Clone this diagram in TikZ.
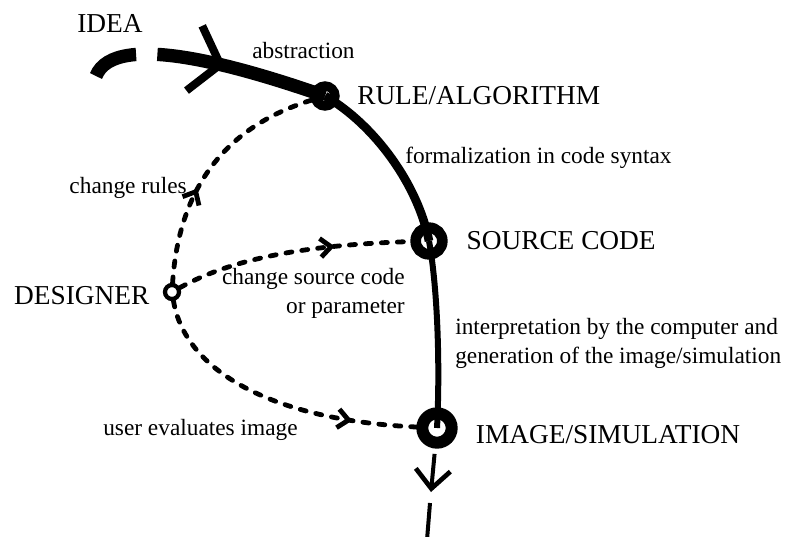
\documentclass[tikz,border=0pt]{standalone}
\usepackage{fontspec}
\setmainfont{Liberation Serif}
\usetikzlibrary{arrows.meta, positioning}
\usetikzlibrary{decorations.markings}

\begin{document}
\begin{tikzpicture}[x=0.75pt, y=-0.75pt,
    stage/.style={circle, draw, inner sep=0pt, minimum size=20pt, line width=8pt},
    bigtext/.style={inner sep=0pt, font=\fontsize{20.5}{24}\selectfont},
    smalltext/.style={inner sep=0pt, font=\fontsize{17.5}{21.5}\selectfont},
    mainflow/.style={line width=#1, line cap=butt},
    feedback/.style={line width=3.6pt, line cap=round, dash pattern=on 4.5pt off 7.5pt},
    midarrow/.style={decoration={markings, mark=at position #1 with {\arrow{Straight Barb[length=8pt,width=14pt,line width=3.6pt]}}}, postaction={decorate}}]
    \useasboundingbox (0,0) rectangle (793,536);

    % stages of the process
    \node[stage, minimum size=15pt, line width=7pt] (rule) at (325,96) {};
    \node[stage] (source) at (429,241) {};
    \node[stage, minimum size=22pt, line width=9pt] (image) at (437,428) {};
    \node[stage, minimum size=10.5pt, line width=3.2pt] (designer) at (172,292) {};
    \coordinate (ideatail) at (96,76);
    \coordinate (sinktip) at (431,492);
    \coordinate (sinka) at (430,503);
    \coordinate (sinkb) at (427,540);

    % main flow
    \draw[mainflow=10pt, dash pattern=on 36pt off 16pt on 600pt,
      decoration={markings, mark=at position 0.57 with {\arrow{Straight Barb[length=20pt,width=50pt,line width=6pt]}}},
      postaction={decorate}] (ideatail) .. controls (115,28) and (250,70) .. (rule.center);
    \draw[mainflow=6.5pt] (rule.center) .. controls (375,125) and (418,185) .. (source.center);
    \draw[mainflow=4.5pt] (source.center) .. controls (438,290) and (440,370) .. (image.center);
    \draw[mainflow=3pt, shorten <=4pt, -{Straight Barb[length=14pt,width=26pt,line width=3.5pt]}] (image) -- (sinktip);
    \draw[mainflow=3pt] (sinka) -- (sinkb);

    % designer loops
    \draw[feedback, midarrow=0.4] (designer) .. controls (178,200) and (215,130) .. (rule);
    \draw[feedback, midarrow=0.68] (designer) .. controls (230,260) and (300,245) .. (source);
    \draw[feedback, midarrow=0.78] (designer) .. controls (185,370) and (270,420) .. (image);

    % labels
    \node[bigtext, anchor=base west] (idea) at (77,32) {IDEA};
    \node[smalltext, anchor=base west] (abstr) at (252,58) {abstraction};
    \node[bigtext, right=13pt of rule] (rulelbl) {RULE/ALGORITHM};
    \node[smalltext, anchor=base west] (formal) at (405,163) {formalization in code syntax};
    \node[bigtext, right=14pt of source] (sourcelbl) {SOURCE CODE};
    \node[smalltext, anchor=base east] (rulechg) at (187,193) {change rules};
    \node[bigtext, left=10pt of designer, yshift=-3pt] (designerlbl) {DESIGNER};
    \node[smalltext, align=right, anchor=north east] (codechg) at (405,268) {change source code\\or parameter};
    \node[smalltext, align=left, anchor=north west] (interp) at (455,318) {interpretation by the computer and\\generation of the image/simulation};
    \node[bigtext, right=13.5pt of image, yshift=-5pt] (imagelbl) {IMAGE/SIMULATION};
    \node[smalltext, anchor=base west] (userchk) at (103,435) {user evaluates image};
\end{tikzpicture}
\end{document}
